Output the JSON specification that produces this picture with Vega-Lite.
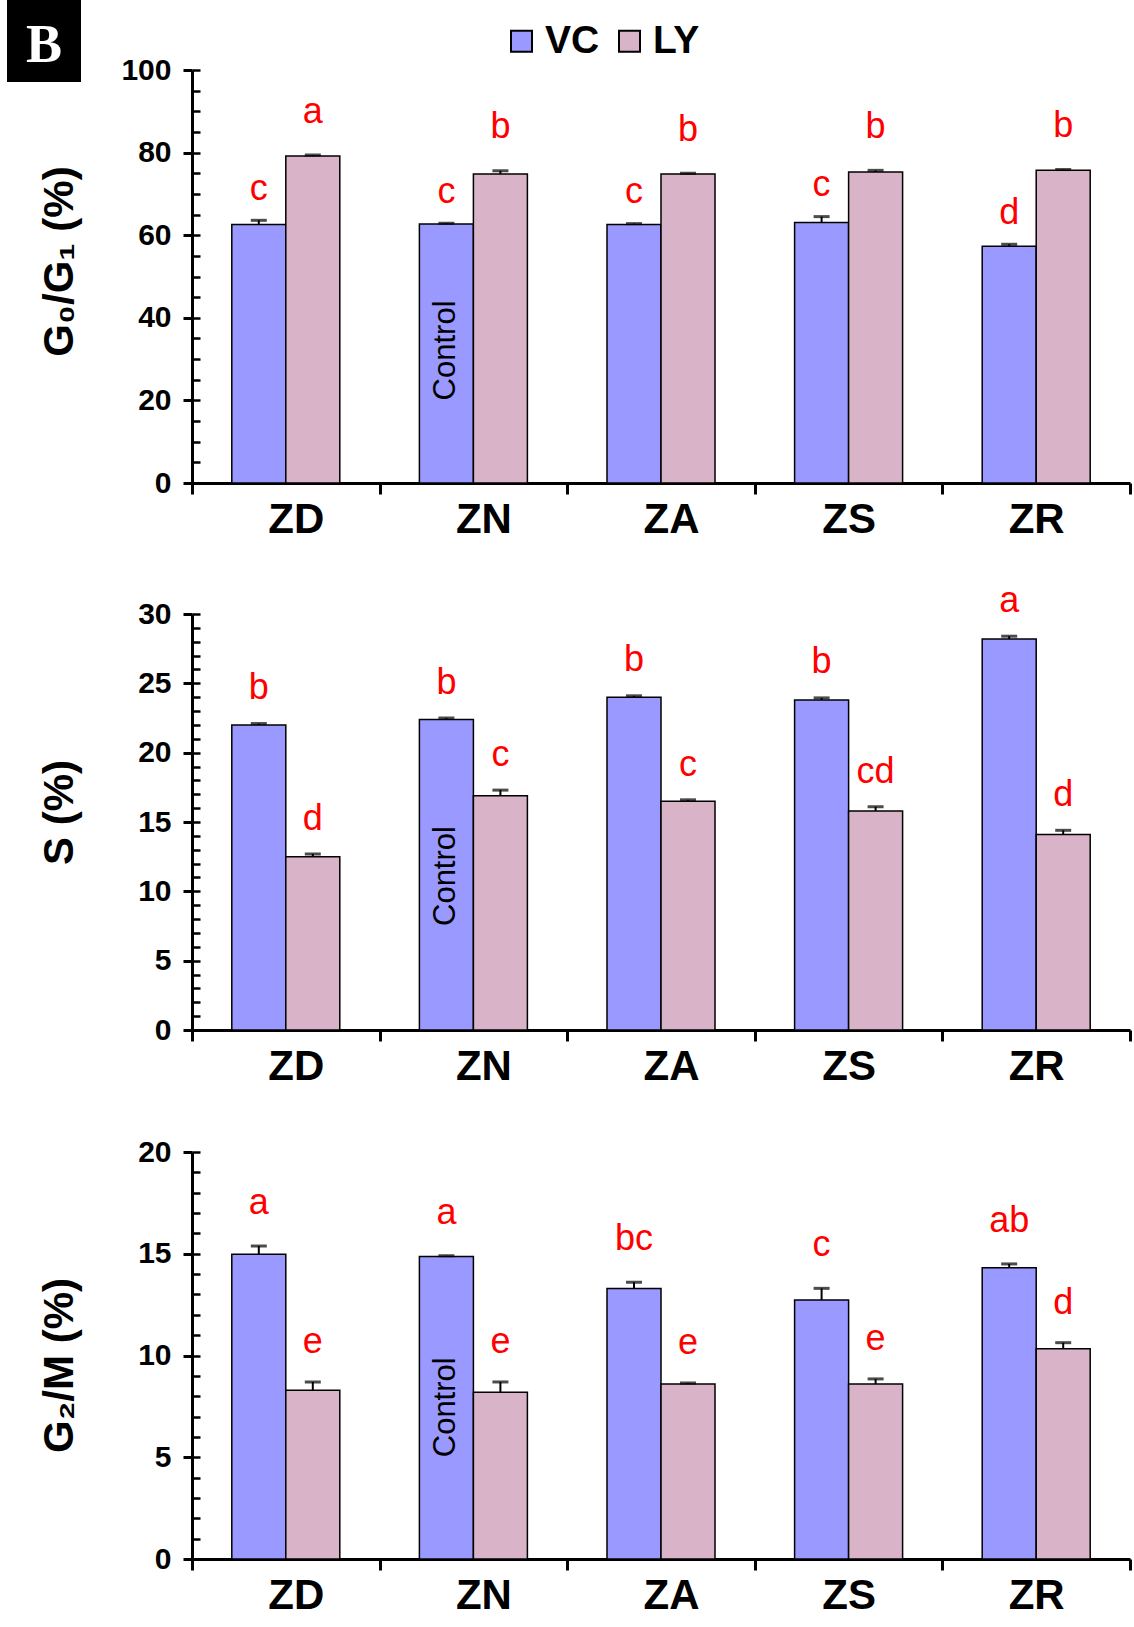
{
  "$schema": "https://vega.github.io/schema/vega-lite/v6.json",
  "background": "white",
  "padding": {"left": 7, "top": 0, "right": 0, "bottom": 0},
  "config": {"view": {"stroke": null}, "font": "Liberation Sans", "axis": {"grid": false}},
  "datasets": {
    "g0g1": [
      {"cat": "ZD", "group": "VC", "value": 62.6, "hi": 63.6, "letter": "c"},
      {"cat": "ZD", "group": "LY", "value": 79.2, "hi": 79.4, "letter": "a"},
      {"cat": "ZN", "group": "VC", "value": 62.7, "hi": 62.9, "letter": "c"},
      {"cat": "ZN", "group": "LY", "value": 74.8, "hi": 75.6, "letter": "b"},
      {"cat": "ZA", "group": "VC", "value": 62.6, "hi": 62.8, "letter": "c"},
      {"cat": "ZA", "group": "LY", "value": 74.8, "hi": 75.0, "letter": "b"},
      {"cat": "ZS", "group": "VC", "value": 63.1, "hi": 64.5, "letter": "c"},
      {"cat": "ZS", "group": "LY", "value": 75.3, "hi": 75.7, "letter": "b"},
      {"cat": "ZR", "group": "VC", "value": 57.3, "hi": 57.8, "letter": "d"},
      {"cat": "ZR", "group": "LY", "value": 75.7, "hi": 75.9, "letter": "b"}
    ],
    "s": [
      {"cat": "ZD", "group": "VC", "value": 22.0, "hi": 22.1, "letter": "b"},
      {"cat": "ZD", "group": "LY", "value": 12.5, "hi": 12.7, "letter": "d"},
      {"cat": "ZN", "group": "VC", "value": 22.4, "hi": 22.5, "letter": "b"},
      {"cat": "ZN", "group": "LY", "value": 16.9, "hi": 17.3, "letter": "c"},
      {"cat": "ZA", "group": "VC", "value": 24.0, "hi": 24.1, "letter": "b"},
      {"cat": "ZA", "group": "LY", "value": 16.5, "hi": 16.6, "letter": "c"},
      {"cat": "ZS", "group": "VC", "value": 23.8, "hi": 23.95, "letter": "b"},
      {"cat": "ZS", "group": "LY", "value": 15.8, "hi": 16.1, "letter": "cd"},
      {"cat": "ZR", "group": "VC", "value": 28.2, "hi": 28.4, "letter": "a"},
      {"cat": "ZR", "group": "LY", "value": 14.1, "hi": 14.4, "letter": "d"}
    ],
    "g2m": [
      {"cat": "ZD", "group": "VC", "value": 14.97, "hi": 15.38, "letter": "a"},
      {"cat": "ZD", "group": "LY", "value": 8.29, "hi": 8.7, "letter": "e"},
      {"cat": "ZN", "group": "VC", "value": 14.86, "hi": 14.9, "letter": "a"},
      {"cat": "ZN", "group": "LY", "value": 8.19, "hi": 8.7, "letter": "e"},
      {"cat": "ZA", "group": "VC", "value": 13.29, "hi": 13.6, "letter": "bc"},
      {"cat": "ZA", "group": "LY", "value": 8.6, "hi": 8.65, "letter": "e"},
      {"cat": "ZS", "group": "VC", "value": 12.73, "hi": 13.3, "letter": "c"},
      {"cat": "ZS", "group": "LY", "value": 8.6, "hi": 8.85, "letter": "e"},
      {"cat": "ZR", "group": "VC", "value": 14.31, "hi": 14.5, "letter": "ab"},
      {"cat": "ZR", "group": "LY", "value": 10.33, "hi": 10.63, "letter": "d"}
    ],
    "control": [{"cat": "ZN", "group": "VC", "note": "Control"}],
    "tag": [{"tag": "B"}],
    "none": []
  },
  "spacing": -43,
  "hconcat": [
    {
      "width": 74, "height": 82,
      "view": {"fill": "black", "stroke": null},
      "data": {"name": "tag"},
      "mark": {"type": "text", "color": "white", "font": "Liberation Serif", "fontWeight": "bold", "fontSize": 54, "align": "center", "baseline": "middle", "dy": 5},
      "encoding": {"text": {"field": "tag"}}
    },
    {
      "spacing": 0,
      "vconcat": [
        {"width": 10, "height": 55, "data": {"name": "none"}, "mark": "text", "encoding": {}},
        {
          "spacing": 42,
          "vconcat": [
            {
              "width": 938, "height": 413,
              "resolve": {"axis": {"x": "independent", "y": "independent"}},
              "layer": [
                {"data": {"name": "g0g1"}, "mark": {"type": "bar", "stroke": "black", "strokeWidth": 1.5},
                 "encoding": {
                   "x": {"field": "cat", "type": "nominal", "scale": {"domain": ["ZD","ZN","ZA","ZS","ZR"], "paddingInner": 0, "paddingOuter": 0},
                         "axis": {"title": null, "labelAngle": 0, "tickBand": "extent", "tickSize": 11, "tickWidth": 3, "tickColor": "black", "domainWidth": 3, "domainColor": "black", "labelFontSize": 42, "labelFontWeight": "bold", "labelColor": "black", "labelFont": "Liberation Sans", "labelPadding": 5, "labelOffset": {"condition": {"test": "datum.value === 'ZD' || datum.value === 'ZN' || datum.value === 'ZA'", "value": 10}, "value": 0}}},
                   "xOffset": {"field": "group", "type": "nominal", "scale": {"domain": ["VC","LY"], "paddingInner": 0, "paddingOuter": 0.737}},
                   "y": {"field": "value", "type": "quantitative", "scale": {"domain": [0, 100], "nice": false},
                         "axis": {"orient": "left", "values": [0,20,40,60,80,100], "tickSize": 9, "tickWidth": 3, "tickColor": "black", "domainWidth": 3, "domainColor": "black", "labelFontSize": 30, "labelFontWeight": "bold", "labelColor": "black", "labelFont": "Liberation Sans", "labelPadding": 12, "labelOverlap": false, "title": "G₀/G₁ (%)", "titleFontSize": 42, "titleFontWeight": "bold", "titleColor": "black", "titleFont": "Liberation Sans", "titlePadding": 41, "titleY": 191, "minExtent": 70, "maxExtent": 70}},
                   "color": {"field": "group", "type": "nominal", "scale": {"domain": ["VC","LY"], "range": ["#9999ff", "#d9b3c7"]},
                             "legend": {"orient": "none", "legendX": 495, "legendY": 21.5, "direction": "horizontal", "title": null, "padding": 0, "symbolType": "square", "symbolSize": 441, "symbolStrokeColor": "black", "symbolStrokeWidth": 2, "symbolOpacity": 1, "labelFontSize": 39, "labelFontWeight": "bold", "labelFont": "Liberation Sans", "labelColor": "black", "labelOffset": 4, "columnPadding": 10}}
                 }},
                {"data": {"name": "g0g1"}, "mark": {"type": "rule", "color": "black", "strokeWidth": 2},
                 "encoding": {
                   "x": {"field": "cat", "type": "nominal", "scale": {"domain": ["ZD","ZN","ZA","ZS","ZR"], "paddingInner": 0, "paddingOuter": 0}, "axis": null},
                   "xOffset": {"field": "group", "type": "nominal", "scale": {"domain": ["VC","LY"], "paddingInner": 0, "paddingOuter": 0.737}},
                   "y": {"field": "value", "type": "quantitative", "scale": {"domain": [0, 100], "nice": false},
                         "axis": {"orient": "left", "values": [0,5,10,15,20,25,30,35,40,45,50,55,60,65,70,75,80,85,90,95,100], "tickSize": -8, "tickWidth": 2.5, "tickColor": "black", "domain": false, "labels": false, "title": null}},
                   "y2": {"field": "hi"}
                 }},
                {"data": {"name": "g0g1"}, "mark": {"type": "tick", "color": "black", "thickness": 3, "size": 16, "orient": "horizontal"},
                 "encoding": {
                   "x": {"field": "cat", "type": "nominal", "scale": {"domain": ["ZD","ZN","ZA","ZS","ZR"], "paddingInner": 0, "paddingOuter": 0}, "axis": null},
                   "xOffset": {"field": "group", "type": "nominal", "scale": {"domain": ["VC","LY"], "paddingInner": 0, "paddingOuter": 0.737}},
                   "y": {"field": "hi", "type": "quantitative", "scale": {"domain": [0, 100], "nice": false}, "axis": null}
                 }},
                {"data": {"name": "g0g1"}, "transform": [{"filter": "datum.group === 'VC'"}], "mark": {"type": "text", "color": "#ff0000", "fontSize": 36, "font": "Liberation Sans", "baseline": "alphabetic", "dy": -20.5},
                 "encoding": {
                   "x": {"field": "cat", "type": "nominal", "scale": {"domain": ["ZD","ZN","ZA","ZS","ZR"], "paddingInner": 0, "paddingOuter": 0}, "axis": null},
                   "xOffset": {"field": "group", "type": "nominal", "scale": {"domain": ["VC","LY"], "paddingInner": 0, "paddingOuter": 0.737}},
                   "y": {"field": "hi", "type": "quantitative", "scale": {"domain": [0, 100], "nice": false}, "axis": null},
                   "text": {"field": "letter"}
                 }},
                {"data": {"name": "g0g1"}, "transform": [{"filter": "datum.group === 'LY'"}], "mark": {"type": "text", "color": "#ff0000", "fontSize": 36, "font": "Liberation Sans", "baseline": "alphabetic", "dy": -32.5},
                 "encoding": {
                   "x": {"field": "cat", "type": "nominal", "scale": {"domain": ["ZD","ZN","ZA","ZS","ZR"], "paddingInner": 0, "paddingOuter": 0}, "axis": null},
                   "xOffset": {"field": "group", "type": "nominal", "scale": {"domain": ["VC","LY"], "paddingInner": 0, "paddingOuter": 0.737}},
                   "y": {"field": "hi", "type": "quantitative", "scale": {"domain": [0, 100], "nice": false}, "axis": null},
                   "text": {"field": "letter"}
                 }},
                {"data": {"name": "control"}, "mark": {"type": "text", "color": "black", "fontSize": 31, "font": "Liberation Sans", "angle": 270, "align": "left", "baseline": "middle"},
                 "encoding": {
                   "x": {"field": "cat", "type": "nominal", "scale": {"domain": ["ZD","ZN","ZA","ZS","ZR"], "paddingInner": 0, "paddingOuter": 0}, "axis": null},
                   "xOffset": {"field": "group", "type": "nominal", "scale": {"domain": ["VC","LY"], "paddingInner": 0, "paddingOuter": 0.737}},
                   "y": {"datum": 20, "type": "quantitative", "scale": {"domain": [0, 100], "nice": false}, "axis": null},
                   "text": {"field": "note"}
                 }}
              ]
            },
            {
              "spacing": 50,
              "vconcat": [
                {
                  "width": 938, "height": 416,
                  "resolve": {"axis": {"x": "independent", "y": "independent"}},
                  "layer": [
                    {"data": {"name": "s"}, "mark": {"type": "bar", "stroke": "black", "strokeWidth": 1.5},
                     "encoding": {
                       "x": {"field": "cat", "type": "nominal", "scale": {"domain": ["ZD","ZN","ZA","ZS","ZR"], "paddingInner": 0, "paddingOuter": 0},
                             "axis": {"title": null, "labelAngle": 0, "tickBand": "extent", "tickSize": 11, "tickWidth": 3, "tickColor": "black", "domainWidth": 3, "domainColor": "black", "labelFontSize": 42, "labelFontWeight": "bold", "labelColor": "black", "labelFont": "Liberation Sans", "labelPadding": 5, "labelOffset": {"condition": {"test": "datum.value === 'ZD' || datum.value === 'ZN' || datum.value === 'ZA'", "value": 10}, "value": 0}}},
                       "xOffset": {"field": "group", "type": "nominal", "scale": {"domain": ["VC","LY"], "paddingInner": 0, "paddingOuter": 0.737}},
                       "y": {"field": "value", "type": "quantitative", "scale": {"domain": [0, 30], "nice": false},
                             "axis": {"orient": "left", "values": [0,5,10,15,20,25,30], "tickSize": 9, "tickWidth": 3, "tickColor": "black", "domainWidth": 3, "domainColor": "black", "labelFontSize": 30, "labelFontWeight": "bold", "labelColor": "black", "labelFont": "Liberation Sans", "labelPadding": 12, "labelOverlap": false, "title": "S (%)", "titleFontSize": 42, "titleFontWeight": "bold", "titleColor": "black", "titleFont": "Liberation Sans", "titlePadding": 41, "titleY": 198, "minExtent": 70, "maxExtent": 70}},
                       "color": {"field": "group", "type": "nominal", "scale": {"domain": ["VC","LY"], "range": ["#9999ff", "#d9b3c7"]},
                                 "legend": {"orient": "none", "legendX": 495, "legendY": 21.5, "direction": "horizontal", "title": null, "padding": 0, "symbolType": "square", "symbolSize": 441, "symbolStrokeColor": "black", "symbolStrokeWidth": 2, "symbolOpacity": 1, "labelFontSize": 39, "labelFontWeight": "bold", "labelFont": "Liberation Sans", "labelColor": "black", "labelOffset": 4, "columnPadding": 10}}
                     }},
                    {"data": {"name": "s"}, "mark": {"type": "rule", "color": "black", "strokeWidth": 2},
                     "encoding": {
                       "x": {"field": "cat", "type": "nominal", "scale": {"domain": ["ZD","ZN","ZA","ZS","ZR"], "paddingInner": 0, "paddingOuter": 0}, "axis": null},
                       "xOffset": {"field": "group", "type": "nominal", "scale": {"domain": ["VC","LY"], "paddingInner": 0, "paddingOuter": 0.737}},
                       "y": {"field": "value", "type": "quantitative", "scale": {"domain": [0, 30], "nice": false},
                             "axis": {"orient": "left", "values": [0,1,2,3,4,5,6,7,8,9,10,11,12,13,14,15,16,17,18,19,20,21,22,23,24,25,26,27,28,29,30], "tickSize": -8, "tickWidth": 2.5, "tickColor": "black", "domain": false, "labels": false, "title": null}},
                       "y2": {"field": "hi"}
                     }},
                    {"data": {"name": "s"}, "mark": {"type": "tick", "color": "black", "thickness": 3, "size": 16, "orient": "horizontal"},
                     "encoding": {
                       "x": {"field": "cat", "type": "nominal", "scale": {"domain": ["ZD","ZN","ZA","ZS","ZR"], "paddingInner": 0, "paddingOuter": 0}, "axis": null},
                       "xOffset": {"field": "group", "type": "nominal", "scale": {"domain": ["VC","LY"], "paddingInner": 0, "paddingOuter": 0.737}},
                       "y": {"field": "hi", "type": "quantitative", "scale": {"domain": [0, 30], "nice": false}, "axis": null}
                     }},
                    {"data": {"name": "s"}, "transform": [{"filter": "datum.group === 'VC'"}], "mark": {"type": "text", "color": "#ff0000", "fontSize": 36, "font": "Liberation Sans", "baseline": "alphabetic", "dy": -24.5},
                     "encoding": {
                       "x": {"field": "cat", "type": "nominal", "scale": {"domain": ["ZD","ZN","ZA","ZS","ZR"], "paddingInner": 0, "paddingOuter": 0}, "axis": null},
                       "xOffset": {"field": "group", "type": "nominal", "scale": {"domain": ["VC","LY"], "paddingInner": 0, "paddingOuter": 0.737}},
                       "y": {"field": "hi", "type": "quantitative", "scale": {"domain": [0, 30], "nice": false}, "axis": null},
                       "text": {"field": "letter"}
                     }},
                    {"data": {"name": "s"}, "transform": [{"filter": "datum.group === 'LY'"}], "mark": {"type": "text", "color": "#ff0000", "fontSize": 36, "font": "Liberation Sans", "baseline": "alphabetic", "dy": -24},
                     "encoding": {
                       "x": {"field": "cat", "type": "nominal", "scale": {"domain": ["ZD","ZN","ZA","ZS","ZR"], "paddingInner": 0, "paddingOuter": 0}, "axis": null},
                       "xOffset": {"field": "group", "type": "nominal", "scale": {"domain": ["VC","LY"], "paddingInner": 0, "paddingOuter": 0.737}},
                       "y": {"field": "hi", "type": "quantitative", "scale": {"domain": [0, 30], "nice": false}, "axis": null},
                       "text": {"field": "letter"}
                     }},
                    {"data": {"name": "control"}, "mark": {"type": "text", "color": "black", "fontSize": 31, "font": "Liberation Sans", "angle": 270, "align": "left", "baseline": "middle"},
                     "encoding": {
                       "x": {"field": "cat", "type": "nominal", "scale": {"domain": ["ZD","ZN","ZA","ZS","ZR"], "paddingInner": 0, "paddingOuter": 0}, "axis": null},
                       "xOffset": {"field": "group", "type": "nominal", "scale": {"domain": ["VC","LY"], "paddingInner": 0, "paddingOuter": 0.737}},
                       "y": {"datum": 7.5, "type": "quantitative", "scale": {"domain": [0, 30], "nice": false}, "axis": null},
                       "text": {"field": "note"}
                     }}
                  ]
                },
                {
                  "width": 938, "height": 407,
                  "resolve": {"axis": {"x": "independent", "y": "independent"}},
                  "layer": [
                    {"data": {"name": "g2m"}, "mark": {"type": "bar", "stroke": "black", "strokeWidth": 1.5},
                     "encoding": {
                       "x": {"field": "cat", "type": "nominal", "scale": {"domain": ["ZD","ZN","ZA","ZS","ZR"], "paddingInner": 0, "paddingOuter": 0},
                             "axis": {"title": null, "labelAngle": 0, "tickBand": "extent", "tickSize": 11, "tickWidth": 3, "tickColor": "black", "domainWidth": 3, "domainColor": "black", "labelFontSize": 42, "labelFontWeight": "bold", "labelColor": "black", "labelFont": "Liberation Sans", "labelPadding": 5, "labelOffset": {"condition": {"test": "datum.value === 'ZD' || datum.value === 'ZN' || datum.value === 'ZA'", "value": 10}, "value": 0}}},
                       "xOffset": {"field": "group", "type": "nominal", "scale": {"domain": ["VC","LY"], "paddingInner": 0, "paddingOuter": 0.737}},
                       "y": {"field": "value", "type": "quantitative", "scale": {"domain": [0, 20], "nice": false},
                             "axis": {"orient": "left", "values": [0,5,10,15,20], "tickSize": 9, "tickWidth": 3, "tickColor": "black", "domainWidth": 3, "domainColor": "black", "labelFontSize": 30, "labelFontWeight": "bold", "labelColor": "black", "labelFont": "Liberation Sans", "labelPadding": 12, "labelOverlap": false, "title": "G₂/M (%)", "titleFontSize": 42, "titleFontWeight": "bold", "titleColor": "black", "titleFont": "Liberation Sans", "titlePadding": 41, "titleY": 213, "minExtent": 70, "maxExtent": 70}},
                       "color": {"field": "group", "type": "nominal", "scale": {"domain": ["VC","LY"], "range": ["#9999ff", "#d9b3c7"]},
                                 "legend": {"orient": "none", "legendX": 495, "legendY": 21.5, "direction": "horizontal", "title": null, "padding": 0, "symbolType": "square", "symbolSize": 441, "symbolStrokeColor": "black", "symbolStrokeWidth": 2, "symbolOpacity": 1, "labelFontSize": 39, "labelFontWeight": "bold", "labelFont": "Liberation Sans", "labelColor": "black", "labelOffset": 4, "columnPadding": 10}}
                     }},
                    {"data": {"name": "g2m"}, "mark": {"type": "rule", "color": "black", "strokeWidth": 2},
                     "encoding": {
                       "x": {"field": "cat", "type": "nominal", "scale": {"domain": ["ZD","ZN","ZA","ZS","ZR"], "paddingInner": 0, "paddingOuter": 0}, "axis": null},
                       "xOffset": {"field": "group", "type": "nominal", "scale": {"domain": ["VC","LY"], "paddingInner": 0, "paddingOuter": 0.737}},
                       "y": {"field": "value", "type": "quantitative", "scale": {"domain": [0, 20], "nice": false},
                             "axis": {"orient": "left", "values": [0,1,2,3,4,5,6,7,8,9,10,11,12,13,14,15,16,17,18,19,20], "tickSize": -8, "tickWidth": 2.5, "tickColor": "black", "domain": false, "labels": false, "title": null}},
                       "y2": {"field": "hi"}
                     }},
                    {"data": {"name": "g2m"}, "mark": {"type": "tick", "color": "black", "thickness": 3, "size": 16, "orient": "horizontal"},
                     "encoding": {
                       "x": {"field": "cat", "type": "nominal", "scale": {"domain": ["ZD","ZN","ZA","ZS","ZR"], "paddingInner": 0, "paddingOuter": 0}, "axis": null},
                       "xOffset": {"field": "group", "type": "nominal", "scale": {"domain": ["VC","LY"], "paddingInner": 0, "paddingOuter": 0.737}},
                       "y": {"field": "hi", "type": "quantitative", "scale": {"domain": [0, 20], "nice": false}, "axis": null}
                     }},
                    {"data": {"name": "g2m"}, "transform": [{"filter": "datum.group === 'VC'"}], "mark": {"type": "text", "color": "#ff0000", "fontSize": 36, "font": "Liberation Sans", "baseline": "alphabetic", "dy": -32},
                     "encoding": {
                       "x": {"field": "cat", "type": "nominal", "scale": {"domain": ["ZD","ZN","ZA","ZS","ZR"], "paddingInner": 0, "paddingOuter": 0}, "axis": null},
                       "xOffset": {"field": "group", "type": "nominal", "scale": {"domain": ["VC","LY"], "paddingInner": 0, "paddingOuter": 0.737}},
                       "y": {"field": "hi", "type": "quantitative", "scale": {"domain": [0, 20], "nice": false}, "axis": null},
                       "text": {"field": "letter"}
                     }},
                    {"data": {"name": "g2m"}, "transform": [{"filter": "datum.group === 'LY'"}], "mark": {"type": "text", "color": "#ff0000", "fontSize": 36, "font": "Liberation Sans", "baseline": "alphabetic", "dy": -28.5},
                     "encoding": {
                       "x": {"field": "cat", "type": "nominal", "scale": {"domain": ["ZD","ZN","ZA","ZS","ZR"], "paddingInner": 0, "paddingOuter": 0}, "axis": null},
                       "xOffset": {"field": "group", "type": "nominal", "scale": {"domain": ["VC","LY"], "paddingInner": 0, "paddingOuter": 0.737}},
                       "y": {"field": "hi", "type": "quantitative", "scale": {"domain": [0, 20], "nice": false}, "axis": null},
                       "text": {"field": "letter"}
                     }},
                    {"data": {"name": "control"}, "mark": {"type": "text", "color": "black", "fontSize": 31, "font": "Liberation Sans", "angle": 270, "align": "left", "baseline": "middle"},
                     "encoding": {
                       "x": {"field": "cat", "type": "nominal", "scale": {"domain": ["ZD","ZN","ZA","ZS","ZR"], "paddingInner": 0, "paddingOuter": 0}, "axis": null},
                       "xOffset": {"field": "group", "type": "nominal", "scale": {"domain": ["VC","LY"], "paddingInner": 0, "paddingOuter": 0.737}},
                       "y": {"datum": 5, "type": "quantitative", "scale": {"domain": [0, 20], "nice": false}, "axis": null},
                       "text": {"field": "note"}
                     }}
                  ]
                }
              ]
            }
          ]
        }
      ]
    }
  ]
}
